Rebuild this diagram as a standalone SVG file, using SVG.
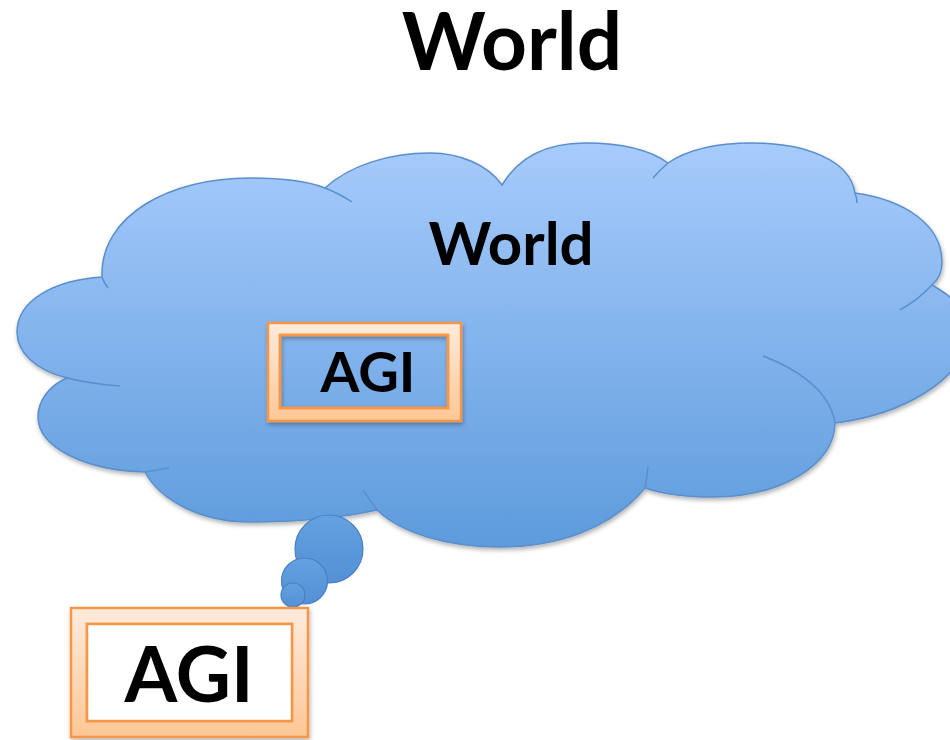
<svg xmlns="http://www.w3.org/2000/svg" width="950" height="740" viewBox="0 0 950 740">
<defs>
<linearGradient id="cloudGrad" x1="0" y1="0" x2="0" y2="1">
<stop offset="0" stop-color="#a7cbfc"/>
<stop offset="1" stop-color="#5d9bdc"/>
</linearGradient>
<linearGradient id="bubbleGrad" x1="0" y1="0" x2="0" y2="1">
<stop offset="0" stop-color="#64a1e0"/>
<stop offset="1" stop-color="#5390d5"/>
</linearGradient>
<linearGradient id="frameGrad" x1="0" y1="0" x2="0" y2="1">
<stop offset="0" stop-color="#feebdd"/>
<stop offset="1" stop-color="#fcc796"/>
</linearGradient>
<filter id="shadow" x="-10%" y="-10%" width="120%" height="130%">
<feDropShadow dx="1" dy="2.5" stdDeviation="2" flood-color="#000" flood-opacity="0.3"/>
</filter>
</defs>
<style>
.cloud{fill:url(#cloudGrad);stroke:#5a8fcc;stroke-width:1.5}
.tail{fill:none;stroke:#5a8fcc;stroke-width:1.5}
.bubble{fill:url(#bubbleGrad);stroke:#4a80c0;stroke-width:1.2}
.frame{fill:url(#frameGrad);fill-rule:evenodd;stroke:#f79646;stroke-width:2.5}
.inner{fill:none;stroke:#f79646;stroke-width:2.5}
.t{font-family:Lato,"Noto Sans","Liberation Sans",sans-serif;font-weight:bold;fill:#000;text-anchor:middle}
</style>
<rect width="950" height="740" fill="#fff"/>
<g id="title">
<text class="t" x="512" y="70" font-size="80">World</text>
</g>
<g id="world">
<path class="cloud" filter="url(#shadow)" d="M102,277 C100,215 170,178 250,178 C285,178 310,182 325,188 C350,165 390,153 430,153 C460,153 488,165 502,185 C520,155 550,143 585,143 C620,143 650,150 668,163 C690,148 720,143 752,143 C805,143 850,160 855,193 C905,200 942,225 942,262 C942,272 938,280 932,285 C950,295 968,310 968,330 C968,380 900,415 835,423 C835,465 780,497 713,497 C685,497 660,493 645,488 C610,530 555,547 500,547 C445,547 400,532 377,510 C340,518 295,522 250,522 C200,522 160,500 145,472 C80,470 38,445 38,417 C38,400 50,385 67,378 C35,370 17,352 17,332 C17,300 55,280 102,277 Z"/>
<path class="tail" d="M102,277 Q104,283 108,288 M325,188 Q340,194 352,202 M668,163 Q660,170 653,178 M855,193 Q857,198 857,203 M932,285 Q918,300 900,310 M763,356 C795,368 830,390 835,423 M645,488 Q647,477 648,467 M377,510 Q370,500 363,490 M145,472 Q157,470 169,468 M67,378 Q92,384 120,386"/>
<text class="t" x="511" y="265" font-size="60">World</text>
</g>
<g id="connectors">
<circle class="bubble" cx="329" cy="549" r="34"/>
<circle class="bubble" cx="304.5" cy="581" r="23"/>
<circle class="bubble" cx="293" cy="595" r="12"/>
</g>
<g id="agi-inner">
<path class="frame" filter="url(#shadow)" d="M268,323 H461 V421 H268 Z M280,335 V408 H448 V335 Z"/>
<rect class="inner" x="280" y="335" width="168" height="73"/>
<text class="t" x="368" y="392" font-size="56">AGI</text>
</g>
<g id="agi-outer">
<path class="frame" filter="url(#shadow)" d="M71,608 H308 V737 H71 Z M87,624 V721 H292 V624 Z"/>
<rect x="87" y="624" width="205" height="97" fill="#fff" stroke="#f79646" stroke-width="2.5"/>
<text class="t" x="189" y="702" font-size="76">AGI</text>
</g>
</svg>
